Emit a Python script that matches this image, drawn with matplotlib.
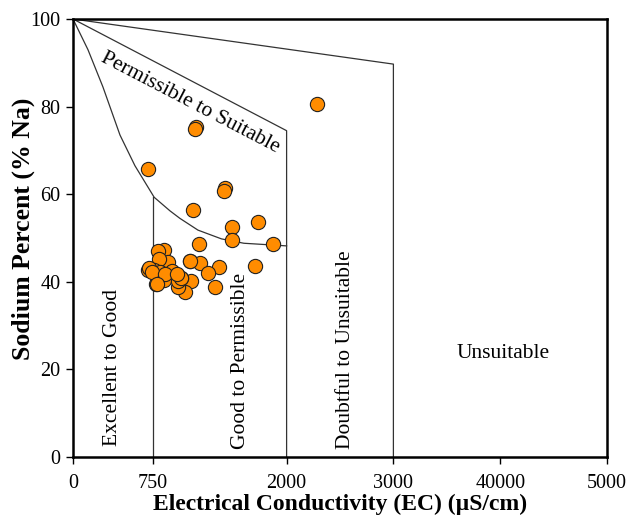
import matplotlib
matplotlib.use("Agg")
import matplotlib.pyplot as plt
import numpy as np

# Sample data: electrical conductivity (µS/cm) and sodium percent (% Na)
ec = [2285, 1150, 1140, 700, 1425, 1410, 1127, 1735, 1485, 1490, 1870, 1180,
      1705, 1098, 1190, 1367, 1268, 1330, 1105, 1045, 985, 1015,
      852, 796, 890, 802, 927, 702, 758, 812, 852, 780, 983, 1008,
      1092, 715, 740, 861, 971, 790]
na = [80.5, 75.3, 74.8, 65.7, 61.4, 60.7, 56.3, 53.7, 52.4, 49.6, 48.6, 48.6,
      43.6, 44.8, 44.2, 43.3, 42.1, 38.7, 40.2, 37.6, 38.8, 40.9,
      47.3, 47.0, 44.5, 45.3, 42.4, 42.8, 42.6, 42.2, 40.3, 39.6, 40.1, 40.9,
      44.7, 43.2, 42.3, 41.8, 41.7, 39.4]

# Wilcox class boundaries
curve_ec = [0, 140, 280, 440, 580, 760, 908, 1000, 1170, 1390, 1600, 2000]
curve_na = [100, 93.0, 84.5, 73.5, 66.5, 59.3, 56.2, 54.5, 51.8, 49.8, 48.8, 48.2]
upper_ec = [0, 2000, 2000]
upper_na = [100, 74.5, 0]
outer_ec = [0, 3000, 3000]
outer_na = [100, 89.7, 0]
excellent_ec = [750, 750]
excellent_na = [59.3, 0]

xticks = [0, 750, 2000, 3000, 4000, 5000]
xticklabels = ["0", "750", "2000", "3000", "40000", "5000"]
yticks = [0, 20, 40, 60, 80, 100]

serif = ["Liberation Serif", "DejaVu Serif"]
plt.rcParams["font.family"] = serif

fig = plt.figure(figsize=(6.3, 5.22), dpi=100)
ax = fig.add_axes([73 / 630, 65 / 522, 534 / 630, 438 / 522])

lc = "#333333"
ax.plot(curve_ec, curve_na, color=lc, lw=0.9, zorder=1)
ax.plot(upper_ec, upper_na, color=lc, lw=0.9, zorder=1)
ax.plot(outer_ec, outer_na, color=lc, lw=0.9, zorder=1)
ax.plot(excellent_ec, excellent_na, color=lc, lw=0.9, zorder=1)

ax.scatter(ec, na, s=105, facecolor="#FF8C00", edgecolor="#222222",
           linewidth=0.8, zorder=3)

ax.set_xlim(0, 5000)
ax.set_ylim(0, 100)
ax.set_xticks(xticks)
ax.set_xticklabels(xticklabels)
ax.set_yticks(yticks)
ax.tick_params(axis="both", labelsize=14.5, direction="out", length=5,
               width=1.0, color="black")
ax.tick_params(axis="x", pad=7)
ax.tick_params(axis="y", pad=4)
for side in ["left", "bottom", "top", "right"]:
    ax.spines[side].set_linewidth(1.8)

ax.set_xlabel("Electrical Conductivity (EC) (µS/cm)", fontsize=17,
              fontweight="bold", labelpad=1)
ax.set_ylabel("Sodium Percent (% Na)", fontsize=18.5, fontweight="bold")
ax.yaxis.set_label_coords(-0.072, 0.52)

tkw = dict(fontsize=15.5, color="black")
ax.text(1095, 80.8, "Permissible to Suitable", rotation=-27.5,
        ha="center", va="center", rotation_mode="anchor", **tkw)
ax.text(370, 20.5, "Excellent to Good", rotation=90, ha="center",
        va="center", **tkw)
ax.text(1570, 22, "Good to Permissible", rotation=90, ha="center",
        va="center", **tkw)
ax.text(2550, 24.5, "Doubtful to Unsuitable", rotation=90, ha="center",
        va="center", **tkw)
ax.text(4030, 23.6, "Unsuitable", ha="center", va="center", **tkw)

fig.savefig("out.png", dpi=100)
